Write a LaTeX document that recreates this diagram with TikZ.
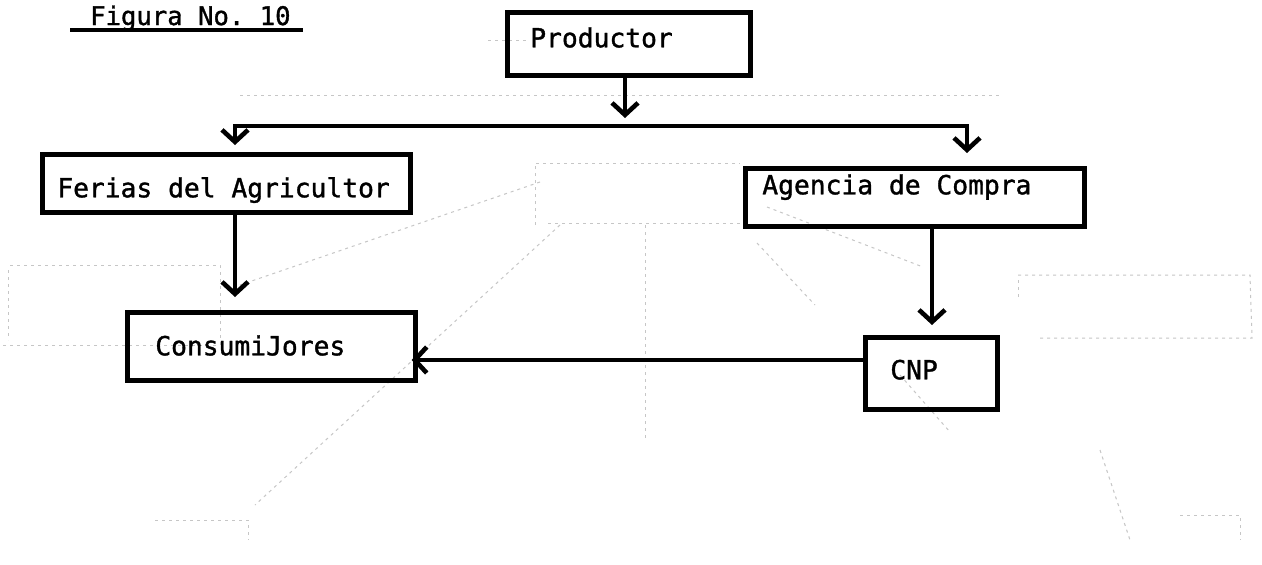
\documentclass[tikz,border=0pt]{standalone}
\usepackage{fontspec}
\newfontfamily\typewriterface[FakeBold=1.3]{DejaVu Sans Mono}
% monospaced face with a fixed, full-width interword space
\newcommand\typewriter[1]{\typewriterface\fontsize{#1}{#1}\selectfont\frenchspacing
  \spaceskip=0.602em\relax \xspaceskip=0.602em\relax}
\usetikzlibrary{arrows.meta}
\begin{document}
\begin{tikzpicture}[x=1pt,y=-1pt,
  box/.style={draw, line width=4.6pt, anchor=north west, inner ysep=0pt,
              align=flush left, text height=20pt, font=\typewriter{26.3},
              execute at begin node={\spaceskip=0.602em\relax\xspaceskip=0.602em\relax}},
  barb/.tip={Straight Barb[length=12pt,width=26pt,line width=4.6pt]},
  flow/.style={line width=4.6pt, -barb},
  flowboth/.style={line width=4.6pt, barb-barb},
  ghost/.style={gray!45, line width=1pt, dash pattern=on 3pt off 4pt}]

\fill[white] (0,0) rectangle (1262,565);
\useasboundingbox (0,0) rectangle (1262,565);

% faint marks showing through from the reverse side of the sheet
\draw[ghost] (240,95) -- (1000,95);
\draw[ghost] (488,40) -- (528,40);
\draw[ghost] (10,265) -- (220,265) -- (220,345) -- (0,345);
\draw[ghost] (8,270) -- (8,340);
\draw[ghost] (535,225) -- (535,163) -- (740,163);
\draw[ghost] (548,223) -- (743,223);
\draw[ghost] (645,225) -- (645,440);
\draw[ghost] (560,225) -- (255,505);
\draw[ghost] (540,182) -- (240,285);
\draw[ghost] (757,243) -- (815,305);
\draw[ghost] (767,207) -- (923,267);
\draw[ghost] (900,375) -- (950,432);
\draw[ghost] (1018,275) -- (1250,275) -- (1252,338) -- (1040,338);
\draw[ghost] (1018,280) -- (1018,300);
\draw[ghost] (155,520) -- (248,520) -- (248,540);
\draw[ghost] (1100,450) -- (1130,540);
\draw[ghost] (1180,515) -- (1240,515) -- (1240,540);

% title
\node[anchor=base west, inner sep=0pt, font=\typewriter{25.6}]
  (title) at (90,25) {Figura No. 10};
\draw[line width=3.6pt] (70,30) -- (303,30);

% boxes
\node[box, minimum width=243pt, minimum height=63pt, inner xsep=23pt, text width=197pt,
      text depth=13pt] (prod) at (505,10) {Productor};
\node[box, minimum width=368pt, minimum height=58pt, inner xsep=15pt, text width=338pt,
      text height=28pt, text depth=0pt] (fer) at (40,152) {Ferias del Agricultor};
\node[box, minimum width=339pt, minimum height=58pt, inner xsep=17pt, text width=305pt,
      text depth=26pt] (age) at (743,166) {Agencia de Compra};
\node[box, minimum width=288pt, minimum height=68pt, inner xsep=28pt, text width=232pt,
      text depth=2pt] (con) at (125,310) {ConsumiJores};
\node[box, minimum width=132pt, minimum height=72pt, inner xsep=25pt, text width=82pt,
      text depth=8pt] (cnp) at (863,335) {CNP};

% connector routing points
\coordinate (split) at (625,126);
\coordinate (bl) at (235,126);
\coordinate (br) at (967,126);
\coordinate (fx) at (235,0);
\coordinate (ax) at (932,0);
\coordinate (cy) at (0,360);

% connectors
\draw[flow, shorten >=8pt] (prod.south -| split) -- (split);
\draw[flowboth, shorten <=7pt, shorten >=13pt]
  (fer.north -| bl) -- (bl) -- (br) -- (age.north -| br);
\draw[flow, shorten >=13pt] (fer.south -| fx) -- (con.north -| fx);
\draw[flow, shorten >=10pt] (age.south -| ax) -- (cnp.north -| ax);
\draw[flow, shorten >=-6pt] (cnp.west |- cy) -- (con.east |- cy);

\end{tikzpicture}
\end{document}
